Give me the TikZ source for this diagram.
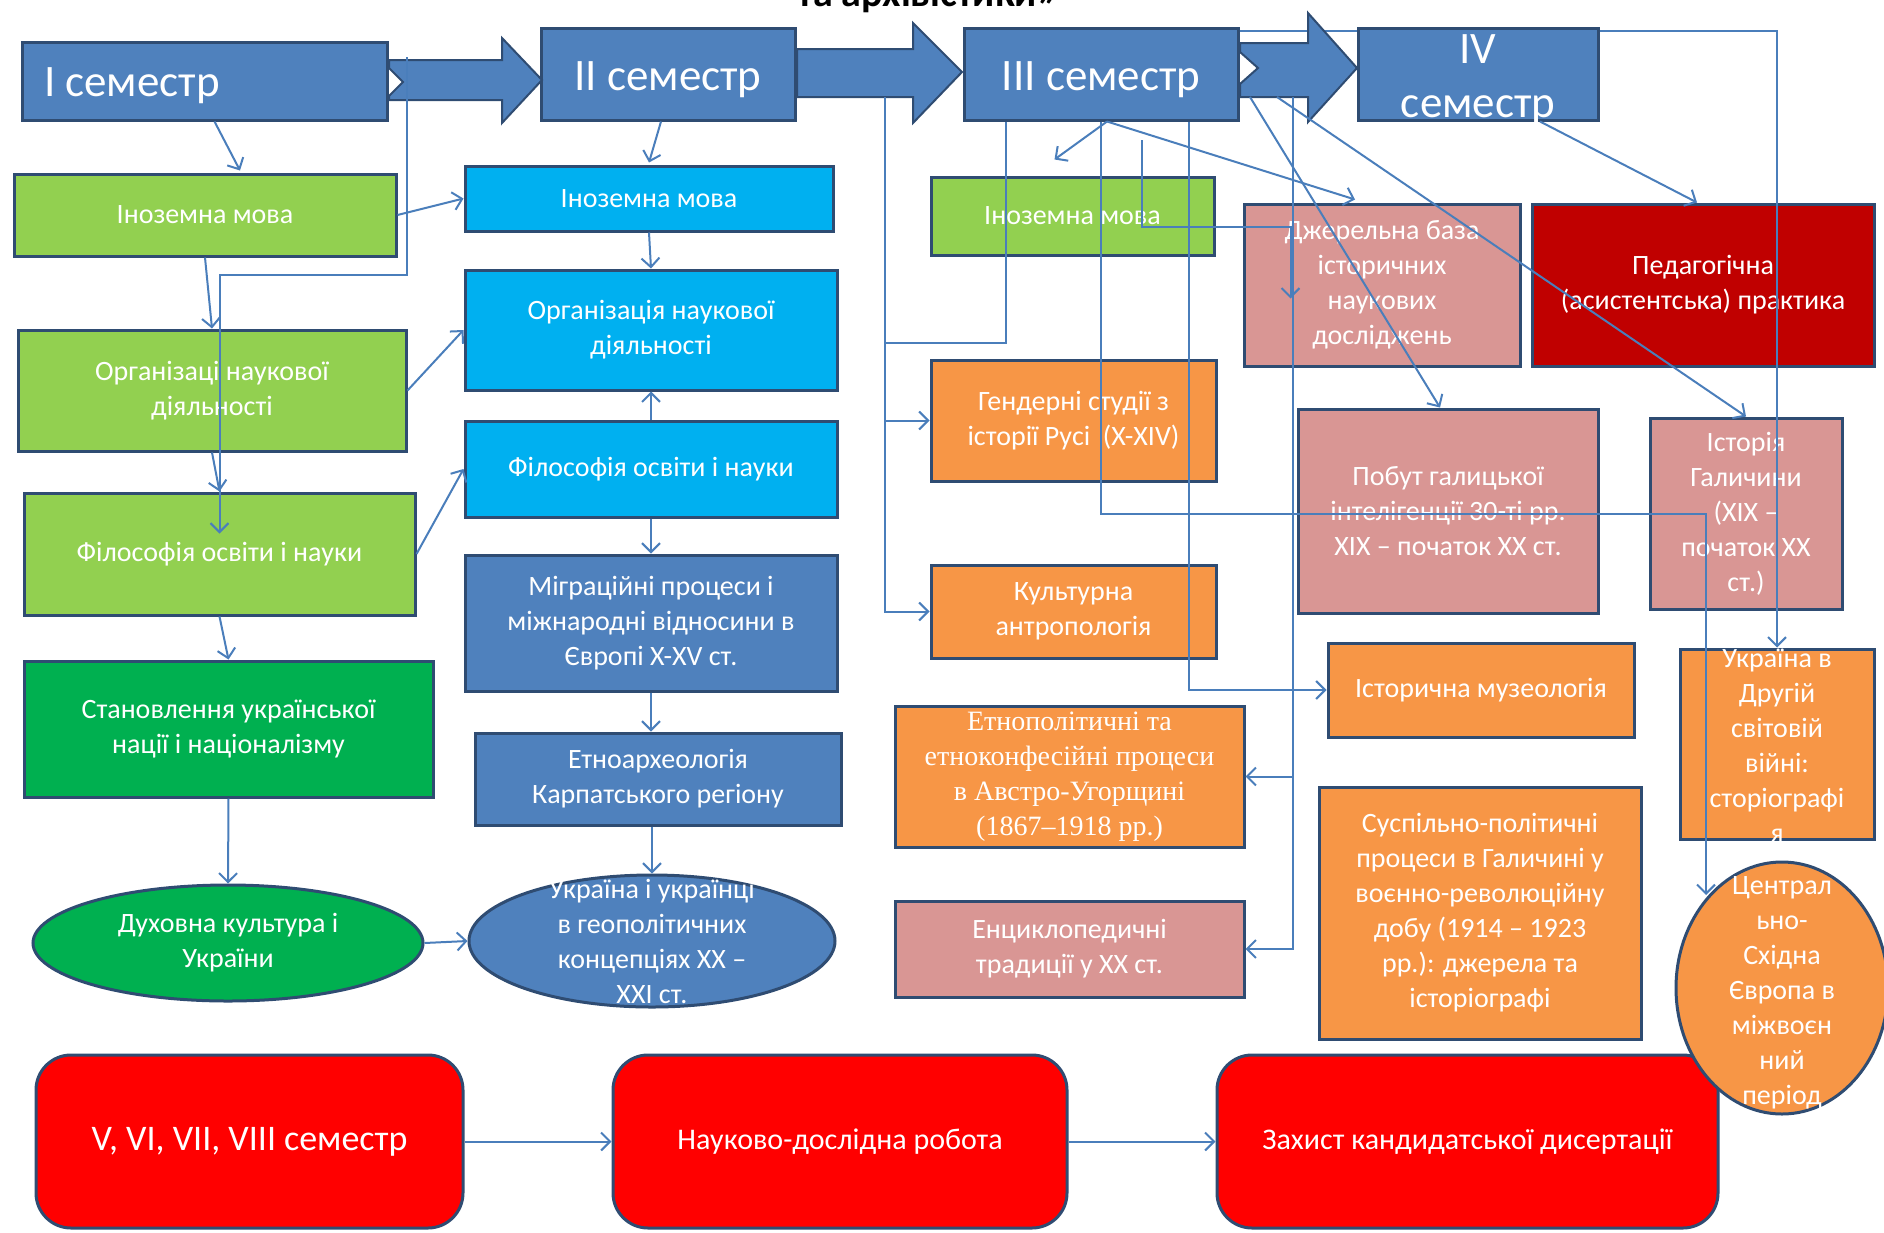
\documentclass[tikz,border=0pt]{standalone}
\usepackage{fontspec}
\setmainfont{Carlito}
\newfontfamily\timesfont{Liberation Serif}
\usetikzlibrary{arrows.meta,calc,shapes.geometric}
\definecolor{semblue}{HTML}{4F81BD}
\definecolor{edgeblue}{HTML}{2F4C72}
\definecolor{linkblue}{HTML}{4A7EBB}
\definecolor{limegreen}{HTML}{92D050}
\definecolor{deepgreen}{HTML}{00B050}
\definecolor{skyblue}{HTML}{00B0F0}
\definecolor{orangebox}{HTML}{F79646}
\definecolor{rosebox}{HTML}{D99694}
\definecolor{darkredbox}{HTML}{C00000}
\definecolor{redbox}{HTML}{FF0000}
\begin{document}
\begin{tikzpicture}[x=1pt,y=-1pt,
	box/.style={rectangle,draw=edgeblue,line width=3pt,inner sep=0pt,text=white,align=center,font=\fontsize{28}{35}\selectfont},
	oval/.style={box,ellipse},
	sem/.style={box,fill=semblue},
	txt/.style={text=white,align=center,inner sep=0pt,font=\fontsize{28}{35}\selectfont},
	semtxt/.style={txt,font=\fontsize{45}{54}\selectfont},
	link/.style={draw=linkblue,line width=2pt,-{Straight Barb[length=9pt,width=18pt]}},
	wire/.style={draw=linkblue,line width=2pt},
	bigarrow/.style={fill=semblue,draw=edgeblue,line width=2pt}]
	\useasboundingbox (0,0) rectangle (1884,1232);
	\clip (0,0) rectangle (1884,1232);
	\node[anchor=base,font=\bfseries\fontsize{40}{40}\selectfont] (title) at (928,6) {та архівістики»};
	% semesters
	\node[sem,minimum width=365pt,minimum height=78pt] (sI) at (204.5,81) {};
	\node[semtxt,anchor=west] at (44,86) {I семестр};
	\node[sem,minimum width=254pt,minimum height=92pt] (sII) at (668,74) {};
	\node[semtxt] at (668,80) {II семестр};
	\node[sem,minimum width=274pt,minimum height=92pt] (sIII) at (1101,74) {};
	\node[semtxt] at (1101,80) {III семестр};
	% column 1
	\node[box,fill=limegreen,minimum width=382pt,minimum height=82pt] (c1a) at (205,215) {Іноземна мова};
	\node[box,fill=limegreen,minimum width=388pt,minimum height=121pt] (c1b) at (212,390.5) {Організаці наукової\\діяльності};
	\node[box,fill=limegreen,minimum width=391pt,minimum height=122pt] (c1c) at (219.5,554) {Філософія освіти і науки};
	\node[box,fill=deepgreen,minimum width=409pt,minimum height=136pt] (c1d) at (228.5,729) {Становлення української\\нації і націоналізму};
	\node[oval,fill=deepgreen,minimum width=390pt,minimum height=116pt] (c1e) at (228,943) {Духовна культура і\\України};
	% column 2
	\node[box,fill=skyblue,minimum width=368pt,minimum height=65pt] (c2a) at (649,198.5) {Іноземна мова};
	\node[box,fill=skyblue,minimum width=372pt,minimum height=120pt] (c2b) at (651,330) {Організація наукової\\діяльності};
	\node[box,fill=skyblue,minimum width=372pt,minimum height=96pt] (c2c) at (651,469) {Філософія освіти і науки};
	\node[box,fill=semblue,minimum width=372pt,minimum height=136pt] (c2d) at (651,623) {Міграційні процеси і\\міжнародні відносини в\\Європі X-XV ст.};
	\node[box,fill=semblue,minimum width=366pt,minimum height=92pt] (c2e) at (658,779) {Етноархеологія\\Карпатського регіону};
	\node[oval,fill=semblue,minimum width=366pt,minimum height=132pt] (c2f) at (652,941) {};
	\node[txt] at (c2f) {Україна і українці\\в геополітичних\\концепціях XX –\\XXI ст.};
	% column 3
	\node[box,fill=limegreen,minimum width=283pt,minimum height=78pt] (c3a) at (1072.5,216) {Іноземна мова};
	\node[box,fill=orangebox,minimum width=285pt,minimum height=121pt] (c3b) at (1073.5,420.5) {Гендерні студії з\\історії Русі~~(X-XIV)};
	\node[box,fill=orangebox,minimum width=285pt,minimum height=93pt] (c3c) at (1073.5,611.5) {Культурна\\антропологія};
	\node[box,fill=orangebox,minimum width=349pt,minimum height=141pt,font=\timesfont\fontsize{28}{35}\selectfont] (c3d) at (1069.5,776.5) {Етнополітичні та\\етноконфесійні процеси\\в Австро-Угорщині\\(1867–1918 рр.)};
	\node[box,fill=rosebox,minimum width=349pt,minimum height=96pt] (c3e) at (1069.5,949) {Енциклопедичні\\традиції у XX ст.};
	% column 4
	\node[box,fill=rosebox,minimum width=276pt,minimum height=162pt] (c4a) at (1382,285) {Джерельна база\\історичних\\наукових\\досліджень};
	\node[box,fill=rosebox,minimum width=300pt,minimum height=204pt] (c4b) at (1448,511) {Побут галицької\\інтелігенції 30-ті рр.\\XIX – початок XX ст.};
	\node[box,fill=orangebox,minimum width=306pt,minimum height=94pt] (c4c) at (1481,690) {Історична музеологія};
	\node[box,fill=orangebox,minimum width=322pt,minimum height=252pt] (c4d) at (1480,913) {Суспільно-політичні\\процеси в Галичині у\\воєнно-революційну\\добу (1914 – 1923\\рр.): джерела та\\історіографі};
	% bottom row
	\node[box,fill=redbox,rounded corners=35pt,minimum width=427pt,minimum height=173pt,font=\fontsize{36}{42}\selectfont] (b1) at (249.5,1141.5) {V, VI, VII, VIII семестр};
	\node[box,fill=redbox,rounded corners=35pt,minimum width=454pt,minimum height=173pt,font=\fontsize{30}{36}\selectfont] (b2) at (840,1141.5) {Науково-дослідна робота};
	\node[box,fill=redbox,rounded corners=35pt,minimum width=501pt,minimum height=173pt,font=\fontsize{30}{36}\selectfont] (b3) at (1467.5,1141.5) {Захист кандидатської дисертації};
	% column 5
	\node[box,fill=darkredbox,minimum width=342pt,minimum height=162pt] (c5a) at (1703,285) {Педагогічна\\(асистентська) практика};
	\node[box,fill=rosebox,minimum width=192pt,minimum height=191pt] (c5b) at (1746,513.5) {Історія\\Галичини\\(XIX –\\початок XX\\ст.)};
	\node[box,fill=orangebox,minimum width=194pt,minimum height=190pt] (c5c) at (1777,744) {};
	\node[txt] at (1777,746) {Україна в\\Другій\\світовій\\війні:\\сторіографі\\я};
	\node[oval,fill=orangebox,minimum width=212pt,minimum height=252pt] (c5d) at (1782,988) {};
	\node[txt] at (1782,993) {Централ\\ьно-\\Східна\\Європа в\\міжвоєн\\ний\\період};
	% line behind the third arrow
	\draw[link] ([yshift=-4pt]sIII.north east) -| (c5c.north);
	% block arrows
	\draw[bigarrow] (389,60) -- (502,60) -- (502,38) -- (542,80) -- (502,123) -- (502,100) -- (389,100) -- (389,96) -- (403,82) -- (389,68) -- cycle;
	\draw[bigarrow] (797,49) -- (913,49) -- (913,23) -- (962,72) -- (913,123) -- (913,97) -- (797,97) -- cycle;
	\draw[bigarrow] (1240,43) -- (1308,43) -- (1308,13) -- (1357,68) -- (1308,122) -- (1308,97) -- (1240,97) -- (1240,84) -- (1258,68) -- (1240,52) -- cycle;
	\node[sem,minimum width=240pt,minimum height=92pt] (sIV) at (1478,74) {};
	\node[semtxt] at (1478,80) {IV\\семестр};
	% connectors
	\coordinate (t1) at (407,57);
	\coordinate (t2) at (885,97);
	\coordinate (j2) at (885,343);
	\coordinate (t3) at (1250,97);
	\coordinate (t4) at (1277,97);
	\coordinate (t5) at (1293,97);
	\coordinate (t6) at (1142,140);
	\draw[link] ([xshift=10pt]sI.south) -- ([xshift=35pt,yshift=2pt]c1a.north);
	\draw[link] (c1a.south) -- (c1b.north);
	\draw[link] (t1) -- ++(0,218) -| ($(c1c.north)+(0,42)$);
	\draw[link] (c1b.south) -- (c1c.north);
	\draw[link] (c1c.south) -- (c1d.north);
	\draw[link] (c1d.south) -- (c1e.north);
	\draw[link] (c1e.east) -- (c2f.west);
	\draw[link] (c1a.east) -- (c2a.west);
	\draw[link] (c1b.east) -- (c2b.west);
	\draw[link] (c1c.east) -- (c2c.west);
	\draw[link] ([xshift=-7pt]sII.south) -- ([yshift=2pt]c2a.north);
	\draw[link] (c2a.south) -- (c2b.north);
	\draw[link] (c2c.north) -- (c2b.south);
	\draw[link] (c2c.south) -- (c2d.north);
	\draw[link] (c2d.south) -- (c2d.south |- c2e.north);
	\draw[link] (c2f.north |- c2e.south) -- (c2f.north);
	\draw[link] ([xshift=6pt]sIII.south) -- ($(c3a.north)+(-18,-16)$);
	\draw[link] ([xshift=6pt]sIII.south) -- ($(c4a.north)+(-27,-3)$);
	\draw[wire] ([xshift=43pt]sIII.south west) |- (j2);
	\draw[link] (t2) |- (c3b.west);
	\draw[link] (t2) |- (c3c.west);
	\draw[link] (sIII.south) -- ++(0,392) -| ($(c5d.center)+(-76,-93)$);
	\draw[link] ([xshift=88pt]sIII.south) |- (c4c.west);
	\draw[link] (t6) -- ++(0,87) -| ($(c4a.north west)+(48,96)$);
	\draw[link] (t5) |- (c3d.east);
	\draw[link] (t5) |- (c3e.east);
	\draw[link] (t3) -- ([xshift=-8pt]c4b.north);
	\draw[link] (t4) -- (c5b.north);
	\draw[link] ([xshift=62pt]sIV.south) -- ([xshift=-6pt]c5a.north);
	\draw[link] (b1.east) -- (b2.west);
	\draw[link] (b2.east) -- (b3.west);
\end{tikzpicture}
\end{document}
